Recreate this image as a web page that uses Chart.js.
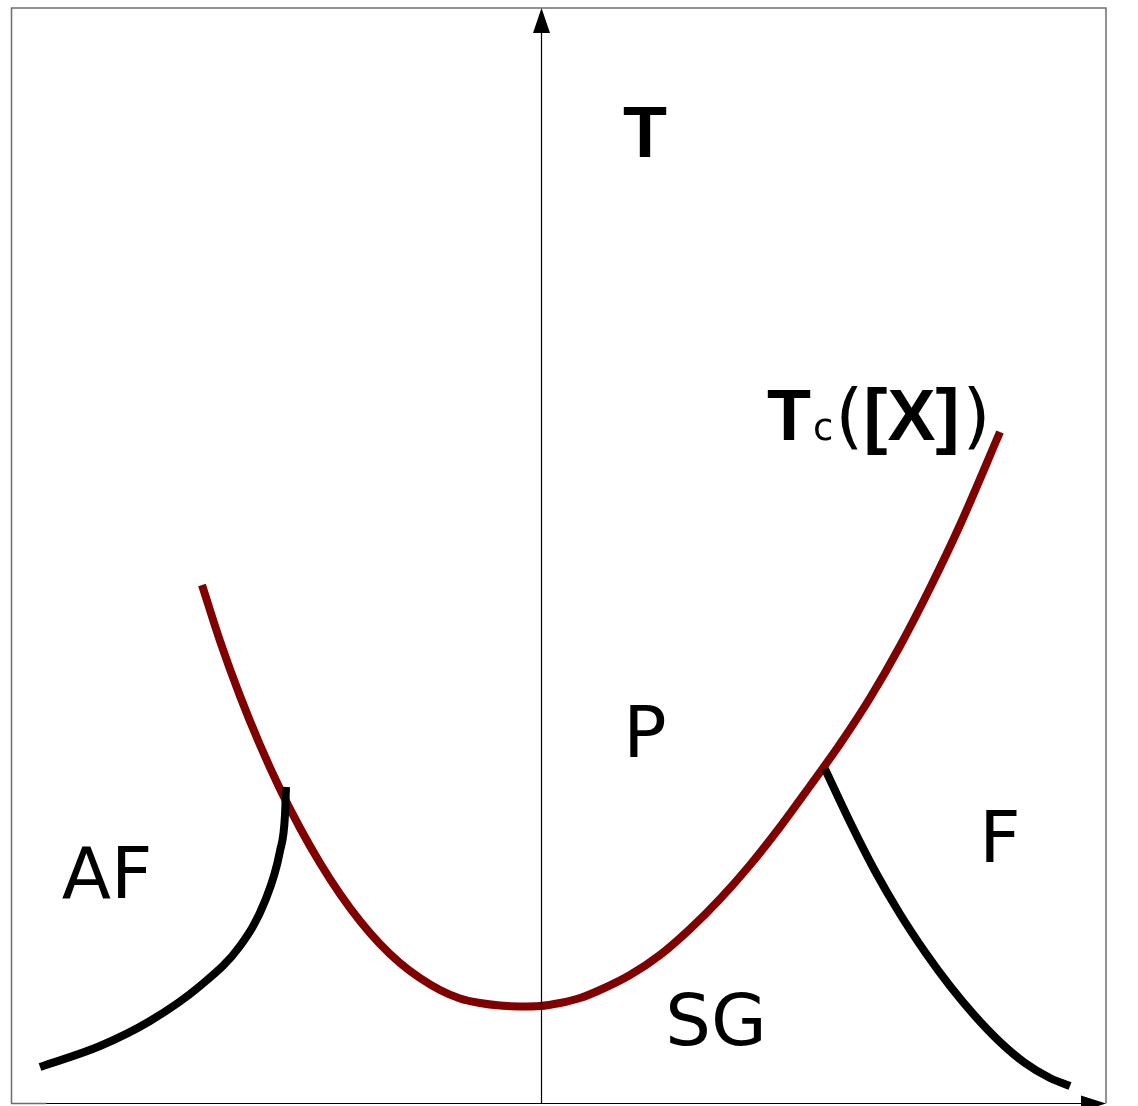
<!DOCTYPE html>
<html>
<head>
<meta charset="utf-8">
<title>Tc([X])</title>
<script src="https://cdn.jsdelivr.net/npm/chart.js@4.4.0/dist/chart.umd.min.js"></script>
<style>
  html, body { margin: 0; padding: 0; background: #fff; }
  #wrap { width: 1138px; height: 1106px; }
</style>
</head>
<body>
<div id="wrap"><canvas id="phaseChart" width="1138" height="1106"></canvas></div>
<script>
// [X] on the horizontal axis (0 at the vertical axis), temperature upward
const tcX = [-3.39, -3.21, -3.01, -2.81, -2.61, -2.41, -2.21, -2.01, -1.81, -1.61, -1.41, -1.21, -1.01, -0.81, -0.61, -0.41, -0.21, -0.01, 0.19, 0.39, 0.59, 0.89, 1.19, 1.49, 1.79, 2.09, 2.39, 2.69, 2.99, 3.29, 3.59, 3.89, 4.19, 4.59];
const tcY = [5.18, 4.62, 4.07, 3.58, 3.14, 2.75, 2.40, 2.09, 1.82, 1.59, 1.40, 1.25, 1.13, 1.045, 1.00, 0.975, 0.965, 0.97, 1.00, 1.05, 1.13, 1.28, 1.48, 1.74, 2.04, 2.38, 2.76, 3.17, 3.59, 4.05, 4.57, 5.15, 5.78, 6.71];

// AF / SG boundary
const afX = [-5.01, -4.41, -3.91, -3.41, -3.01, -2.76, -2.61, -2.56, -2.55];
const afY = [0.36, 0.57, 0.82, 1.17, 1.57, 2.02, 2.52, 2.88, 3.16];

// F / SG boundary
const fX = [2.84, 3.09, 3.34, 3.59, 3.84, 4.09, 4.34, 4.59, 4.84, 5.09, 5.29];
const fY = [3.34, 2.81, 2.32, 1.89, 1.51, 1.17, 0.87, 0.61, 0.40, 0.25, 0.17];

const toPoints = (xs, ys) => xs.map((x, i) => ({ x: x, y: ys[i] }));

// region names and where they sit (data units)
const regionLabels = [
  { text: 'AF', x: -4.34, y: 2.05 },
  { text: 'P',  x: 1.04,  y: 3.46 },
  { text: 'F',  x: 4.59,  y: 2.41 },
  { text: 'SG', x: 1.75,  y: 0.58 }
];

const lineStyle = {
  showLine: true,
  fill: false,
  pointRadius: 0,
  borderWidth: 8,
  borderCapStyle: 'butt',
  cubicInterpolationMode: 'monotone'
};

// frame, axes with arrow heads and the text
const diagramPlugin = {
  id: 'diagramPlugin',
  afterDatasetsDraw(chart) {
    const { ctx, chartArea: a, scales } = chart;
    const xs = scales.x, ys = scales.y;
    const x0 = Math.round(xs.getPixelForValue(0)) + 0.5;
    const yb = Math.round(ys.getPixelForValue(0)) + 0.5;
    ctx.save();

    // frame
    ctx.strokeStyle = '#6e6e6e';
    ctx.lineWidth = 1.5;
    ctx.beginPath();
    ctx.moveTo(a.left + 0.5, yb);
    ctx.lineTo(a.left + 0.5, a.top);
    ctx.lineTo(a.right, a.top);
    ctx.lineTo(a.right, yb);
    ctx.stroke();
    ctx.beginPath();
    ctx.moveTo(a.left, yb);
    ctx.lineTo(xs.getPixelForValue(-4.95), yb);
    ctx.stroke();

    // axes
    ctx.strokeStyle = '#000';
    ctx.fillStyle = '#000';
    ctx.lineWidth = 1.2;
    ctx.beginPath();
    ctx.moveTo(x0, yb);
    ctx.lineTo(x0, a.top + 20);
    ctx.moveTo(xs.getPixelForValue(-4.95), yb);
    ctx.lineTo(a.right - 20, yb);
    ctx.stroke();

    ctx.beginPath();
    ctx.moveTo(x0, a.top);
    ctx.lineTo(x0 - 8.5, a.top + 25);
    ctx.lineTo(x0 + 8.5, a.top + 25);
    ctx.closePath();
    ctx.fill();

    ctx.beginPath();
    ctx.moveTo(a.right, yb);
    ctx.lineTo(a.right - 25, yb - 8);
    ctx.lineTo(a.right - 25, yb + 8);
    ctx.closePath();
    ctx.fill();

    // axis title
    ctx.textBaseline = 'alphabetic';
    ctx.textAlign = 'center';
    ctx.font = 'bold 72px "Liberation Sans"';
    ctx.fillText('T', xs.getPixelForValue(1.04), ys.getPixelForValue(9.46));

    // region names
    ctx.font = '72px "DejaVu Sans"';
    regionLabels.forEach(l => {
      ctx.fillText(l.text, xs.getPixelForValue(l.x), ys.getPixelForValue(l.y));
    });

    // curve name Tc([X])
    ctx.textAlign = 'left';
    let px = xs.getPixelForValue(2.26);
    const py = ys.getPixelForValue(6.63);
    const parts = [
      { t: 'T', f: 'bold 72px "Liberation Sans"', gap: 2 },
      { t: 'c', f: '37px "DejaVu Sans"', gap: 2 },
      { t: '(', f: '72px "DejaVu Sans"', gap: 0 },
      { t: '[X]', f: 'bold 72px "Liberation Sans"', gap: 3 },
      { t: ')', f: '72px "DejaVu Sans"', gap: 0 }
    ];
    parts.forEach(p => {
      ctx.font = p.f;
      ctx.fillText(p.t, px, py);
      px += ctx.measureText(p.t).width + p.gap;
    });

    ctx.restore();
  }
};

const ctx = document.getElementById('phaseChart').getContext('2d');
new Chart(ctx, {
  type: 'scatter',
  data: {
    datasets: [
      { label: 'AF', data: toPoints(afX, afY), borderColor: '#000000', ...lineStyle },
      { label: 'F', data: toPoints(fX, fY), borderColor: '#000000', ...lineStyle },
      { label: 'Tc', data: toPoints(tcX, tcY), borderColor: '#800000', ...lineStyle }
    ]
  },
  options: {
    responsive: false,
    animation: false,
    layout: { padding: { left: 11, top: 8, right: 32, bottom: 3 } },
    plugins: {
      legend: { display: false },
      tooltip: { enabled: false }
    },
    scales: {
      x: { type: 'linear', min: -5.30, max: 5.65, display: false },
      y: { type: 'linear', min: 0, max: 10.95, display: false }
    }
  },
  plugins: [diagramPlugin]
});
</script>
</body>
</html>
